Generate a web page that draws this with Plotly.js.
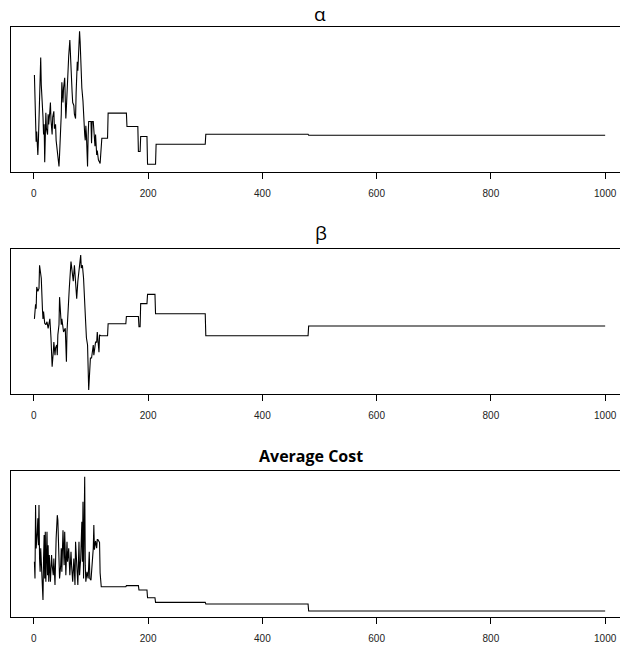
<!DOCTYPE html>
<html>
<head>
<meta charset="utf-8">
<script src="https://cdn.plot.ly/plotly-3.0.1.min.js"></script>
<style>
html,body{margin:0;padding:0;overflow:hidden;background:#fff;}
#chart{width:640px;height:648px;}
</style>
</head>
<body>
<div id="chart"></div>
<script>
// Iteration index (x) and values (arbitrary units, no y scale shown)
const alphaX = [1,2,4,5,7,8,10,12,13,15,16,17,18,19,21,22,24,25,26,28,29,30,32,33,35,36,38,39,41,42,44,45,47,48,49,50,51,52,54,55,56,57,58,60,61,63,64,66,67,68,70,71,73,74,76,77,79,80,81,83,84,86,87,88,89,90,91,92,93,94,95,96,98,100,101,102,104,105,106,107,108,109,110,111,112,113,115,116,117,118,119,129,130,162,163,182,183,186,187,198,199,213,214,300,301,480,481,1000];
const alphaY = [0.67,0.41,0.21,0.28,0.12,0.22,0.56,0.79,0.60,0.49,0.38,0.26,0.33,0.07,0.41,0.30,0.26,0.40,0.33,0.42,0.48,0.36,0.26,0.38,0.42,0.30,0.33,0.22,0.14,0.08,0.04,0.12,0.28,0.40,0.62,0.52,0.48,0.58,0.65,0.50,0.37,0.45,0.55,0.72,0.80,0.91,0.78,0.62,0.55,0.48,0.46,0.40,0.37,0.55,0.76,0.70,0.86,0.97,0.90,0.67,0.58,0.49,0.38,0.35,0.26,0.22,0.32,0.26,0.15,0.04,0.25,0.35,0.35,0.35,0.20,0.35,0.35,0.30,0.22,0.18,0.26,0.20,0.12,0.15,0.10,0.085,0.07,0.06,0.12,0.18,0.234,0.234,0.407,0.407,0.315,0.315,0.143,0.143,0.246,0.246,0.055,0.055,0.193,0.193,0.262,0.262,0.255,0.255];

const betaX = [1,3,4,5,7,9,10,12,13,15,16,17,19,21,23,25,26,28,30,31,32,34,35,37,38,40,41,42,44,45,47,48,49,52,55,57,58,60,62,65,67,69,71,73,75,77,80,82,83,85,87,88,90,92,94,96,97,99,101,104,105,108,110,111,114,115,117,129,130,161,162,183,184,186,187,198,199,212,213,300,301,480,481,1000];
const betaY = [0.52,0.62,0.59,0.74,0.71,0.73,0.89,0.82,0.80,0.59,0.52,0.57,0.49,0.48,0.50,0.455,0.48,0.52,0.39,0.29,0.19,0.29,0.36,0.27,0.32,0.34,0.27,0.41,0.48,0.67,0.57,0.48,0.52,0.43,0.455,0.225,0.43,0.64,0.73,0.915,0.85,0.78,0.89,0.78,0.66,0.78,0.87,0.96,0.87,0.89,0.80,0.66,0.55,0.39,0.34,0.03,0.156,0.25,0.25,0.34,0.27,0.36,0.36,0.43,0.29,0.41,0.404,0.404,0.487,0.487,0.537,0.537,0.466,0.466,0.625,0.625,0.689,0.689,0.556,0.556,0.404,0.404,0.471,0.471];

const costX = [1,2,3,4,6,7,8,9,10,11,12,13,14,16,17,18,19,20,21,23,24,25,26,27,29,31,32,34,35,37,39,41,42,44,45,47,48,49,51,53,54,56,58,59,61,63,65,66,68,70,72,73,75,77,79,80,82,84,85,86,87,89,90,91,93,95,97,98,100,102,104,105,106,108,110,111,112,115,116,118,119,161,162,183,184,186,187,198,199,212,213,300,301,480,481,1000];
const costY = [0.377,0.262,0.766,0.469,0.583,0.675,0.491,0.766,0.40,0.308,0.469,0.354,0.308,0.114,0.40,0.56,0.262,0.583,0.24,0.583,0.285,0.491,0.24,0.423,0.24,0.423,0.354,0.285,0.40,0.217,0.537,0.697,0.663,0.469,0.262,0.354,0.469,0.308,0.594,0.354,0.583,0.285,0.514,0.377,0.469,0.285,0.446,0.354,0.24,0.40,0.217,0.514,0.354,0.217,0.514,0.285,0.40,0.652,0.377,0.789,0.262,0.961,0.354,0.24,0.308,0.262,0.446,0.262,0.251,0.354,0.469,0.63,0.46,0.52,0.47,0.53,0.53,0.51,0.30,0.206,0.206,0.206,0.213,0.213,0.183,0.183,0.183,0.183,0.130,0.130,0.098,0.098,0.087,0.087,0.039,0.039];

const titles = ["α", "β", "Average Cost"];
const xTicks = [0,200,400,600,800,1000];

const lineStyle = {color:"#000", width:1.1};
const traces = [
  {x:alphaX, y:alphaY, type:"scatter", mode:"lines", line:lineStyle, xaxis:"x", yaxis:"y", hoverinfo:"skip"},
  {x:betaX, y:betaY, type:"scatter", mode:"lines", line:lineStyle, xaxis:"x2", yaxis:"y2", hoverinfo:"skip"},
  {x:costX, y:costY, type:"scatter", mode:"lines", line:lineStyle, xaxis:"x3", yaxis:"y3", hoverinfo:"skip"}
];

function xAx(anchor){
  return {anchor:anchor, domain:[0,1], range:[-40,1040], tickvals:xTicks, ticktext:xTicks.map(String),
    ticks:"outside", ticklen:6, tickwidth:1, tickcolor:"#000", showline:true, mirror:true,
    linecolor:"#000", linewidth:1, showgrid:false, zeroline:false, ticklabelstandoff:6,
    tickfont:{family:"Liberation Sans, Arial, sans-serif", size:10, color:"#222"}};
}
function yAx(anchor, dom){
  return {anchor:anchor, domain:dom, range:[0,1], showticklabels:false, ticks:"",
    showline:true, mirror:true, linecolor:"#000", linewidth:1, showgrid:false, zeroline:false};
}

const layout = {
  width:640, height:648,
  margin:{l:11, r:12, t:0, b:0},
  paper_bgcolor:"#fff", plot_bgcolor:"#fff",
  showlegend:false,
  xaxis:xAx("y"), xaxis2:xAx("y2"), xaxis3:xAx("y3"),
  yaxis:yAx("x",[0.7341,0.9583]),
  yaxis2:yAx("x2",[0.3915,0.6153]),
  yaxis3:yAx("x3",[0.0483,0.2731]),
  annotations:[
    {text:titles[0], xref:"paper", yref:"paper", x:0.5, y:0.978, xanchor:"center", yanchor:"middle", showarrow:false,
     font:{family:"Open Sans, DejaVu Sans, sans-serif", size:19, color:"#000"}},
    {text:titles[1], xref:"paper", yref:"paper", x:0.503, y:0.640, xanchor:"center", yanchor:"middle", showarrow:false,
     font:{family:"Open Sans, DejaVu Sans, sans-serif", size:19, color:"#000"}},
    {text:"<b>"+titles[2]+"</b>", xref:"paper", yref:"paper", x:0.486, y:0.296, xanchor:"center", yanchor:"middle", showarrow:false,
     font:{family:"Open Sans, Liberation Sans, sans-serif", size:16, color:"#000"}}
  ]
};

Plotly.newPlot("chart", traces, layout, {staticPlot:true, displayModeBar:false});
</script>
</body>
</html>
